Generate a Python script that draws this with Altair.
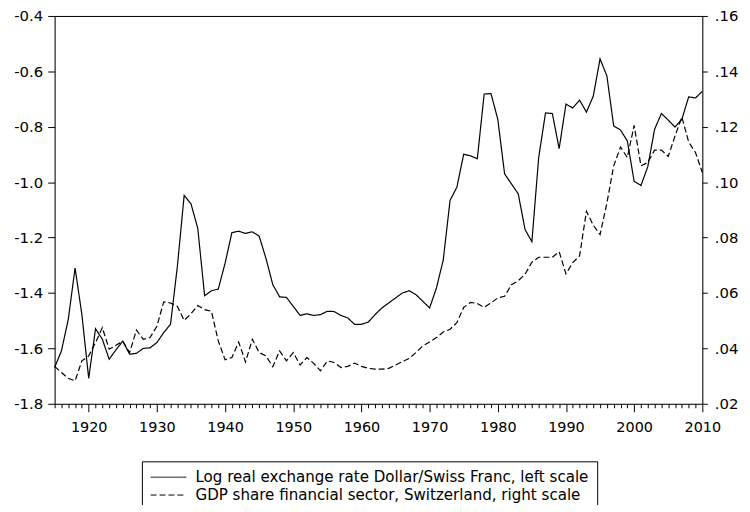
import altair as alt
import pandas as pd

years = list(range(1915, 2011))

fx_rate = [
    -1.669, -1.609, -1.496, -1.310, -1.478, -1.708, -1.529, -1.567, -1.639, -1.605,
    -1.574, -1.621, -1.618, -1.600, -1.598, -1.579, -1.543, -1.513, -1.305, -1.048,
    -1.078, -1.167, -1.410, -1.392, -1.386, -1.293, -1.182, -1.177, -1.185, -1.179,
    -1.195, -1.275, -1.370, -1.414, -1.416, -1.448, -1.481, -1.475, -1.481, -1.478,
    -1.466, -1.467, -1.481, -1.490, -1.513, -1.513, -1.505, -1.478, -1.454, -1.436,
    -1.418, -1.400, -1.392, -1.406, -1.430, -1.454, -1.382, -1.281, -1.066, -1.018,
    -0.899, -0.905, -0.915, -0.682, -0.680, -0.773, -0.970, -1.006, -1.042, -1.171,
    -1.215, -0.911, -0.750, -0.752, -0.879, -0.718, -0.732, -0.704, -0.747, -0.690,
    -0.555, -0.616, -0.797, -0.812, -0.851, -0.997, -1.012, -0.944, -0.809, -0.752,
    -0.776, -0.801, -0.773, -0.692, -0.696, -0.672,
]

gdp_share = [
    0.0335, 0.0313, 0.0292, 0.0283, 0.0355, 0.0373, 0.0421, 0.0475, 0.0397, 0.0411,
    0.0426, 0.0385, 0.0466, 0.0433, 0.0439, 0.0480, 0.0568, 0.0564, 0.0552, 0.0501,
    0.0525, 0.0555, 0.0540, 0.0534, 0.0427, 0.0359, 0.0367, 0.0423, 0.0351, 0.0433,
    0.0385, 0.0373, 0.0334, 0.0391, 0.0355, 0.0385, 0.0340, 0.0367, 0.0346, 0.0319,
    0.0355, 0.0349, 0.0331, 0.0335, 0.0347, 0.0335, 0.0328, 0.0325, 0.0325, 0.0328,
    0.0340, 0.0352, 0.0364, 0.0385, 0.0409, 0.0423, 0.0439, 0.0459, 0.0469, 0.0493,
    0.0548, 0.0566, 0.0562, 0.0548, 0.0564, 0.0582, 0.0588, 0.0630, 0.0644, 0.0668,
    0.0711, 0.0729, 0.0729, 0.0729, 0.0749, 0.0669, 0.0710, 0.0734, 0.0895, 0.0845,
    0.0811, 0.0924, 0.1059, 0.1127, 0.1089, 0.1205, 0.1059, 0.1071, 0.1116, 0.1116,
    0.1093, 0.1167, 0.1235, 0.1145, 0.1107, 0.1035,
]

series_names = [
    "Log real exchange rate Dollar/Swiss Franc, left scale",
    "GDP share financial sector, Switzerland, right scale",
]

left_ticks = [-1.8, -1.6, -1.4, -1.2, -1.0, -0.8, -0.6, -0.4]
right_ticks = [0.02, 0.04, 0.06, 0.08, 0.10, 0.12, 0.14, 0.16]

df_fx = pd.DataFrame({"year": years, "value": fx_rate, "series": series_names[0]})
df_gdp = pd.DataFrame({"year": years, "value": gdp_share, "series": series_names[1]})

FONT = "DejaVu Sans"

dash = alt.StrokeDash(
    "series:N",
    scale=alt.Scale(domain=series_names, range=[[1, 0], [6, 3]]),
    legend=alt.Legend(
        title=None,
        orient="none",
        legendX=88,
        legendY=449,
        direction="vertical",
        strokeColor="black",
        padding=8,
        symbolType="M-1,0H4",
        symbolSize=207,
        symbolStrokeWidth=1,
        symbolStrokeColor="black",
        labelFont=FONT,
        labelFontSize=15.2,
        labelColor="black",
        labelOffset=30,
        rowPadding=1,
        labelLimit=0,
    ),
)

x_axis_bottom = alt.Axis(
    orient="bottom",
    values=years,
    labelExpr="datum.value % 10 === 0 ? '' + datum.value : ''",
    tickSize={"condition": {"test": "datum.value % 10 === 0", "value": 8}, "value": 4},
    labelPadding=9,
    labelFont=FONT,
    labelFontSize=14.5,
    labelColor="black",
    title=None,
    grid=False,
    domainColor="black",
    tickColor="black",
    labelOverlap=False,
    labelFlush=False,
)

x_axis_top = alt.Axis(
    orient="top",
    labels=False,
    ticks=False,
    title=None,
    grid=False,
    domainColor="black",
)

x_scale = alt.Scale(domain=[1915, 2010], nice=False, zero=False)

left = alt.Chart(df_fx).mark_line(color="black", strokeWidth=1.2).encode(
    x=alt.X("year:Q", scale=x_scale, axis=x_axis_bottom),
    y=alt.Y(
        "value:Q",
        scale=alt.Scale(domain=[-1.8, -0.4], nice=False, zero=False),
        axis=alt.Axis(
            orient="left",
            values=left_ticks,
            labelExpr="'-' + format(abs(datum.value), '.1f')",
            tickSize=7,
            labelPadding=5,
            labelFont=FONT,
            labelFontSize=15,
            labelColor="black",
            title=None,
            grid=False,
            domainColor="black",
            tickColor="black",
        ),
    ),
    strokeDash=dash,
)

right = alt.Chart(df_gdp).mark_line(color="black", strokeWidth=1.2).encode(
    x=alt.X("year:Q", scale=x_scale, axis=x_axis_top),
    y=alt.Y(
        "value:Q",
        scale=alt.Scale(domain=[0.02, 0.16], nice=False, zero=False),
        axis=alt.Axis(
            orient="right",
            values=right_ticks,
            labelExpr="replace(format(datum.value, '.2f'), '0.', '.')",
            tickSize=5,
            labelPadding=7,
            labelFont=FONT,
            labelFontSize=15,
            labelColor="black",
            title=None,
            grid=False,
            domainColor="black",
            tickColor="black",
        ),
    ),
    strokeDash=dash,
)

chart = (
    alt.layer(left, right)
    .resolve_scale(y="independent")
    .resolve_axis(x="independent")
    .properties(
        width=653,
        height=391,
        autosize=alt.AutoSizeParams(type="none"),
        padding={"left": 47, "top": 6, "right": 40, "bottom": 100},
    )
    .configure_view(stroke=None)
    .configure(background="white")
)

chart.save("out.html", embed_options={"renderer": "svg", "actions": False})
